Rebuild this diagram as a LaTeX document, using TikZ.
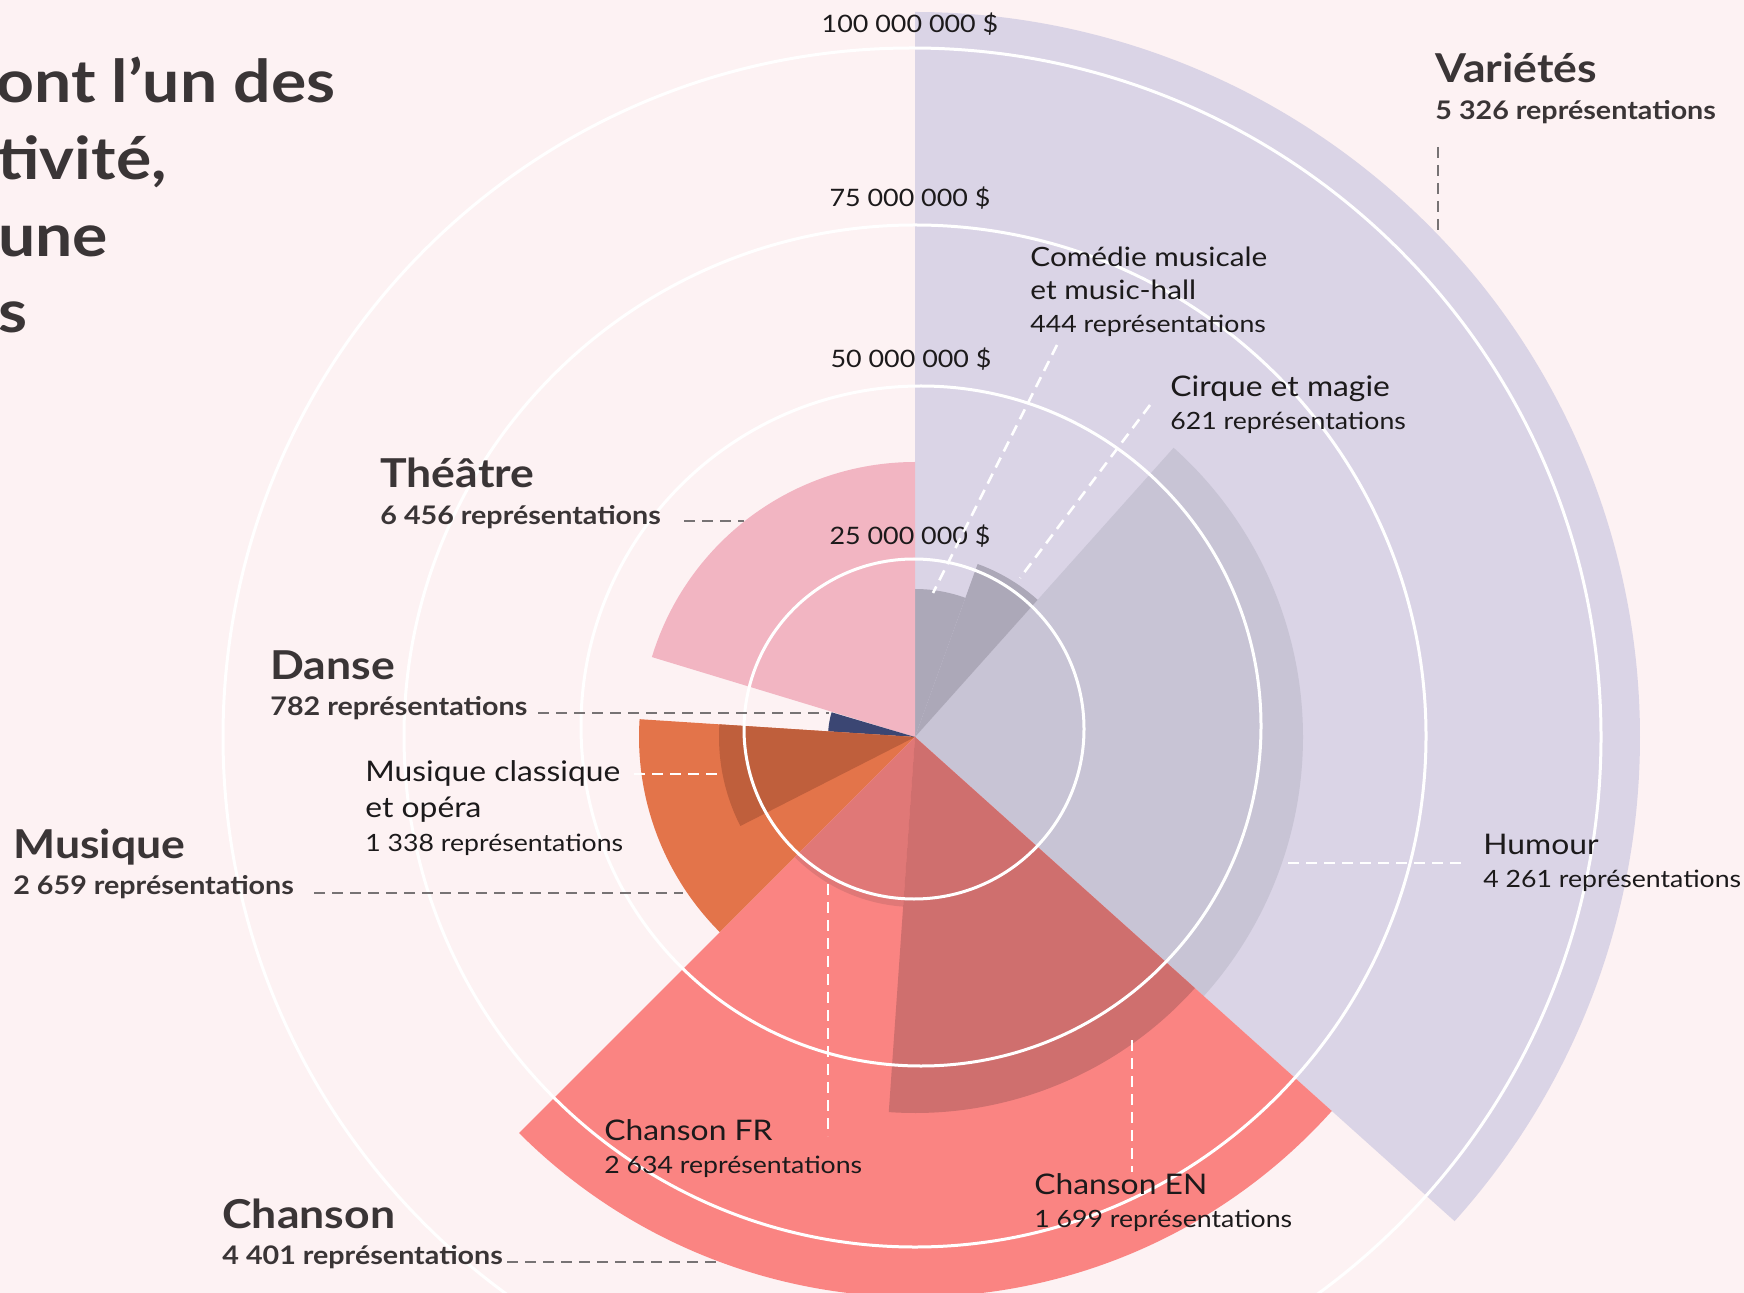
\documentclass[tikz,border=0pt]{standalone}
\usepackage{fontspec}
\setmainfont{Lato}[FakeStretch=1.12]
\definecolor{bg}{HTML}{FDF2F3}
\definecolor{varlight}{HTML}{DAD4E6}
\definecolor{humour}{HTML}{C8C4D5}
\definecolor{cirque}{HTML}{ACA8B8}
\definecolor{theatre}{HTML}{F2B5C2}
\definecolor{danse}{HTML}{3B4673}
\definecolor{musique}{HTML}{E3744A}
\definecolor{classique}{HTML}{BF5F3C}
\definecolor{chanson}{HTML}{FA8482}
\definecolor{chfr}{HTML}{E07877}
\definecolor{chen}{HTML}{CF6F6E}
\definecolor{txtdark}{HTML}{3A3536}
\definecolor{txtblack}{HTML}{1C1A1B}
\definecolor{dashgray}{HTML}{777374}
\newcommand\polsector[4]{\fill[#1] (C) -- ++(#2:#4) arc[start angle=#2, end angle=#3, radius=#4] -- cycle;}
\begin{document}
\begin{tikzpicture}[x=0.5pt,y=0.5pt,
  lab/.style={anchor=base west, inner sep=0pt, text=txtdark},
  cat/.style={lab, font=\fontsize{19.9}{24}\selectfont\bfseries},
  catn/.style={lab, font=\fontsize{12.8}{15}\selectfont\bfseries},
  sub/.style={lab, text=txtblack, font=\fontsize{14.2}{17}\selectfont},
  subsmall/.style={lab, text=txtblack, font=\fontsize{13.3}{16}\selectfont},
  subn/.style={lab, text=txtblack, font=\fontsize{11.9}{14}\selectfont},
  axislab/.style={anchor=base, inner sep=0pt, text=txtblack, font=\fontsize{12}{14}\selectfont},
  titlefont/.style={lab, font=\fontsize{29.5}{36}\selectfont\bfseries},
  ring/.style={draw=white, line width=1.5pt},
  graydash/.style={draw=dashgray, line width=1.4pt, dash pattern=on 5.5pt off 3.5pt},
  whitedash/.style={draw=white, line width=1.3pt, dash pattern=on 5.5pt off 3.5pt}]
\useasboundingbox (0,0) rectangle (1744,-1293);
\fill[bg] (0,0) rectangle (1744,-1293);
\coordinate (C) at (915,-737);
% sectors
\polsector{varlight}{-41.9}{90}{725}
\polsector{humour}{-41.9}{48.2}{388}
\polsector{cirque}{48.2}{70.1}{184}
\polsector{cirque}{70.1}{90}{148}
\polsector{theatre}{90}{163.1}{275}
\polsector{danse}{163.5}{176.3}{87}
\polsector{musique}{176.3}{225}{276}
\polsector{classique}{176.3}{207}{196}
\polsector{chanson}{225}{318.1}{560}
\polsector{chfr}{225}{266}{170}
\polsector{chen}{266}{318.1}{376}
% rings
\coordinate (R25) at (914,-729);
\coordinate (R50) at (921,-726);
\coordinate (R75) at (915,-736);
\coordinate (R100) at (912,-737);
\draw[ring] (R25) circle[radius=170];
\draw[ring] (R50) circle[radius=340];
\draw[ring] (R75) circle[radius=511];
\draw[ring] (R100) circle[radius=689];
% axis labels
\node[axislab] (ax100) at (910,-33) {100 000 000 \$};
\node[axislab] (ax75) at (910,-207) {75 000 000 \$};
\node[axislab] (ax50) at (911,-368) {50 000 000 \$};
\node[axislab] (ax25) at (910,-545) {25 000 000 \$};
% title fragment
\node[titlefont] (t1) at (-4,-103) {ont l’un des};
\node[titlefont] (t2) at (-3,-180) {tivité,};
\node[titlefont] (t3) at (-2,-257) {une};
\node[titlefont] (t4) at (-2,-333) {s};
% Variétés
\node[cat] (var) at (1435,-83) {Variétés};
\node[catn] (varn) at (1435,-120) {5 326 représentations};
\coordinate (varA) at (1438,-147);
\coordinate (varB) at (1438,-230);
\draw[graydash] (varA) -- (varB);
% Comédie musicale
\node[subsmall] (com1) at (1030,-267) {Comédie musicale};
\node[subsmall] (com2) at (1030,-300) {et music-hall};
\node[subn] (comn) at (1030,-333) {444 représentations};
\coordinate (comA) at (1057,-345);
\coordinate (comB) at (933,-593);
\draw[whitedash] (comA) -- (comB);
% Cirque
\node[sub] (cir) at (1170,-397) {Cirque et magie};
\node[subn] (cirn) at (1170,-430) {621 représentations};
\coordinate (cirA) at (1150,-405);
\coordinate (cirB) at (1020,-578);
\draw[whitedash] (cirA) -- (cirB);
% Humour
\node[sub] (hum) at (1483,-854) {Humour};
\node[subn] (humn) at (1483,-887) {4 261 représentations};
\coordinate (humA) at (1461,-863);
\coordinate (humB) at (1288,-863);
\draw[whitedash] (humA) -- (humB);
% Théâtre
\node[cat] (the) at (380,-488) {Théâtre};
\node[catn] (then) at (380,-525) {6 456 représentations};
\coordinate (theA) at (684,-521);
\coordinate (theB) at (744,-521);
\draw[graydash] (theA) -- (theB);
% Danse
\node[cat] (dan) at (270,-679) {Danse};
\node[catn] (dann) at (270,-715) {782 représentations};
\coordinate (danA) at (538,-713);
\coordinate (danB) at (829,-713);
\draw[graydash] (danA) -- (danB);
% Musique classique
\node[sub] (mc1) at (365,-781) {Musique classique};
\node[sub] (mc2) at (365,-817) {et opéra};
\node[subn] (mcn) at (365,-851) {1 338 représentations};
\coordinate (mcA) at (634,-774);
\coordinate (mcB) at (720,-774);
\draw[whitedash] (mcA) -- (mcB);
% Musique
\node[cat] (mus) at (13,-858) {Musique};
\node[catn] (musn) at (13,-894) {2 659 représentations};
\coordinate (musA) at (314,-893);
\coordinate (musB) at (683,-893);
\draw[graydash] (musA) -- (musB);
% Chanson
\node[cat] (cha) at (222,-1228) {Chanson};
\node[catn] (chan) at (222,-1264) {4 401 représentations};
\coordinate (chaA) at (507,-1262);
\coordinate (chaB) at (720,-1262);
\draw[graydash] (chaA) -- (chaB);
% Chanson FR
\node[sub] (fr) at (604,-1140) {Chanson FR};
\node[subn] (frn) at (604,-1173) {2 634 représentations};
\coordinate (frA) at (828,-884);
\coordinate (frB) at (828,-1136);
\draw[whitedash] (frA) -- (frB);
% Chanson EN
\node[sub] (en) at (1034,-1194) {Chanson EN};
\node[subn] (enn) at (1034,-1227) {1 699 représentations};
\coordinate (enA) at (1132,-1040);
\coordinate (enB) at (1132,-1172);
\draw[whitedash] (enA) -- (enB);
\end{tikzpicture}
\end{document}
